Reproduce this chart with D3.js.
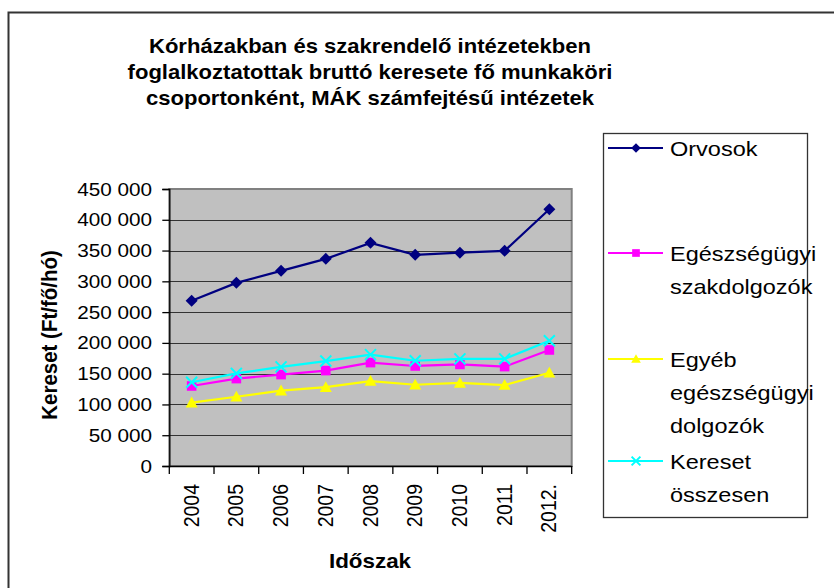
<!DOCTYPE html>
<meta charset="utf-8" />
<title>Kereset</title>
<script src="https://d3js.org/d3.v7.min.js"></script>
<style>
  body { margin: 0; background: #fff; }
  svg { display: block; font-family: "Liberation Sans", Arial, sans-serif; }
</style>
<div id="chart"></div>
<script>
  // years on the x axis
  var years = ["2004", "2005", "2006", "2007", "2008", "2009", "2010", "2011", "2012."];

  // series values (Ft/fő/hó)
  var orvosok = [268500, 297500, 317000, 336500, 362500, 343000, 346500, 349500, 417000];
  var szakdolgozok = [130000, 142000, 148500, 155000, 168000, 162500, 165000, 161500, 188500];
  var egyeb = [103000, 112500, 122500, 128000, 138000, 132000, 135000, 131500, 151500];
  var osszesen = [136000, 150500, 161000, 170500, 181000, 171000, 174000, 174000, 203500];

  var yTicks = [0, 50000, 100000, 150000, 200000, 250000, 300000, 350000, 400000, 450000];

  var titleLines = [
    "Kórházakban és szakrendelő intézetekben",
    "foglalkoztatottak bruttó keresete fő munkaköri",
    "csoportonként, MÁK számfejtésű intézetek"
  ];

  var series = [
    { name: ["Orvosok"], values: orvosok, color: "#000080", marker: "diamond" },
    { name: ["Egészségügyi", "szakdolgozók"], values: szakdolgozok, color: "#FF00FF", marker: "square" },
    { name: ["Egyéb", "egészségügyi", "dolgozók"], values: egyeb, color: "#FFFF00", marker: "triangle" },
    { name: ["Kereset", "összesen"], values: osszesen, color: "#00FFFF", marker: "cross" }
  ];

  var width = 834, height = 588;
  var S = 1.12; // the picture's text is a bit stretched sideways

  var svg = d3.select("#chart").append("svg")
    .attr("width", width)
    .attr("height", height);

  // outer chart frame (only top and left are in the picture)
  svg.append("rect")
    .attr("x", 8.5).attr("y", 12.5)
    .attr("width", 900).attr("height", 700)
    .attr("fill", "none").attr("stroke", "#333").attr("stroke-width", 2);

  function txt(g, x, y, s, size, opt) {
    opt = opt || {};
    var sc = opt.sx || S;
    var t = "translate(" + x + "," + y + ") scale(" + sc + ",1)" + (opt.rot ? " rotate(-90)" : "");
    return g.append("text")
      .attr("transform", t)
      .attr("text-anchor", opt.anchor || "start")
      .attr("font-size", size)
      .attr("font-weight", opt.bold ? "bold" : "normal")
      .attr("fill", "#000")
      .text(s);
  }

  // title
  titleLines.forEach(function (l, i) {
    txt(svg, 370, 53 + i * 26, l, 21, { anchor: "middle", bold: true, sx: 1.05 });
  });

  var x = d3.scaleBand().domain(years).range([169.3, 571.7]);
  var y = d3.scaleLinear().domain([0, 450000]).range([466, 189]);
  var fmt = d3.formatLocale({ decimal: ",", thousands: " ", grouping: [3], currency: ["", " Ft"] }).format(",d");

  // plot area
  svg.append("rect")
    .attr("x", x.range()[0]).attr("y", y(450000))
    .attr("width", x.range()[1] - x.range()[0])
    .attr("height", y(0) - y(450000))
    .attr("fill", "#C0C0C0")
    .attr("stroke", "#808080").attr("stroke-width", 2);

  // gridlines
  svg.append("g").selectAll("line")
    .data(yTicks.slice(1, -1))
    .join("line")
    .attr("x1", x.range()[0]).attr("x2", x.range()[1])
    .attr("y1", function (d) { return Math.round(y(d)) + 0.5; })
    .attr("y2", function (d) { return Math.round(y(d)) + 0.5; })
    .attr("stroke", "#333").attr("stroke-width", 1.2);

  // y axis
  var yAxis = svg.append("g")
    .attr("transform", "translate(" + x.range()[0] + ",0)")
    .call(d3.axisLeft(y).tickValues(yTicks).tickSize(7).tickFormat(""));
  yAxis.select(".domain").attr("stroke", "#000").attr("stroke-width", 1.3);
  yAxis.selectAll(".tick line").attr("stroke", "#000").attr("stroke-width", 1.3);
  yTicks.forEach(function (v) {
    txt(svg, 152, y(v) + 6.5, fmt(v), 18.5, { anchor: "end" });
  });

  // x axis
  var xAxis = svg.append("g")
    .attr("transform", "translate(0," + y(0) + ")")
    .call(d3.axisBottom(x).tickSize(0).tickFormat(""));
  xAxis.select(".domain").attr("stroke", "#000").attr("stroke-width", 1.3);
  svg.append("g").selectAll("line")
    .data(years.concat(["end"]))
    .join("line")
    .attr("x1", function (d, i) { return x.range()[0] + i * x.step(); })
    .attr("x2", function (d, i) { return x.range()[0] + i * x.step(); })
    .attr("y1", y(0)).attr("y2", y(0) + 8)
    .attr("stroke", "#000").attr("stroke-width", 1.3);
  years.forEach(function (yr) {
    txt(svg, x(yr) + x.bandwidth() / 2 + 7, 484, yr, 19.5, { anchor: "end", rot: true });
  });

  // axis titles
  txt(svg, 370, 568, "Időszak", 20, { anchor: "middle", bold: true });
  txt(svg, 57, 335, "Kereset (Ft/fő/hó)", 20.5, { anchor: "middle", bold: true, rot: true });

  function drawMarker(g, type, cx, cy, color, k) {
    k = k || 1;
    if (type === "diamond") {
      var r = 6 * k;
      g.append("path")
        .attr("d", "M" + cx + "," + (cy - r) + "L" + (cx + r) + "," + cy + "L" + cx + "," + (cy + r) + "L" + (cx - r) + "," + cy + "Z")
        .attr("fill", color);
    } else if (type === "square") {
      var h = 4.8 * k;
      g.append("rect").attr("x", cx - h).attr("y", cy - h)
        .attr("width", 2 * h).attr("height", 2 * h).attr("fill", color);
    } else if (type === "triangle") {
      var t = 6 * k;
      g.append("path")
        .attr("d", "M" + cx + "," + (cy - t) + "L" + (cx + t) + "," + (cy + t * 0.8) + "L" + (cx - t) + "," + (cy + t * 0.8) + "Z")
        .attr("fill", color);
    } else {
      var c = 5.5 * k;
      g.append("path")
        .attr("d", "M" + (cx - c) + "," + (cy - c) + "L" + (cx + c) + "," + (cy + c) + "M" + (cx - c) + "," + (cy + c) + "L" + (cx + c) + "," + (cy - c))
        .attr("stroke", color).attr("stroke-width", 2).attr("fill", "none");
    }
  }

  var line = d3.line()
    .x(function (d, i) { return x(years[i]) + x.bandwidth() / 2; })
    .y(function (d) { return y(d); });

  // draw bottom series first so the navy line stays on top like in the original order
  series.forEach(function (s) {
    var g = svg.append("g");
    g.append("path")
      .attr("d", line(s.values))
      .attr("fill", "none")
      .attr("stroke", s.color)
      .attr("stroke-width", 2.2);
    s.values.forEach(function (v, i) {
      drawMarker(g, s.marker, x(years[i]) + x.bandwidth() / 2, y(v), s.color);
    });
  });

  // legend
  var lg = svg.append("g");
  lg.append("rect")
    .attr("x", 603.5).attr("y", 133.5)
    .attr("width", 204).attr("height", 384)
    .attr("fill", "#fff").attr("stroke", "#333").attr("stroke-width", 1.3);
  var legY = [148, 253, 359, 461];
  series.forEach(function (s, i) {
    var ly = legY[i];
    lg.append("line")
      .attr("x1", 608).attr("x2", 663)
      .attr("y1", ly).attr("y2", ly)
      .attr("stroke", s.color).attr("stroke-width", 2.2);
    drawMarker(lg, s.marker, 636, ly, s.color, 0.8);
    s.name.forEach(function (n, j) {
      txt(lg, 670, ly + 8 + j * 33, n, 21, {});
    });
  });
</script>
